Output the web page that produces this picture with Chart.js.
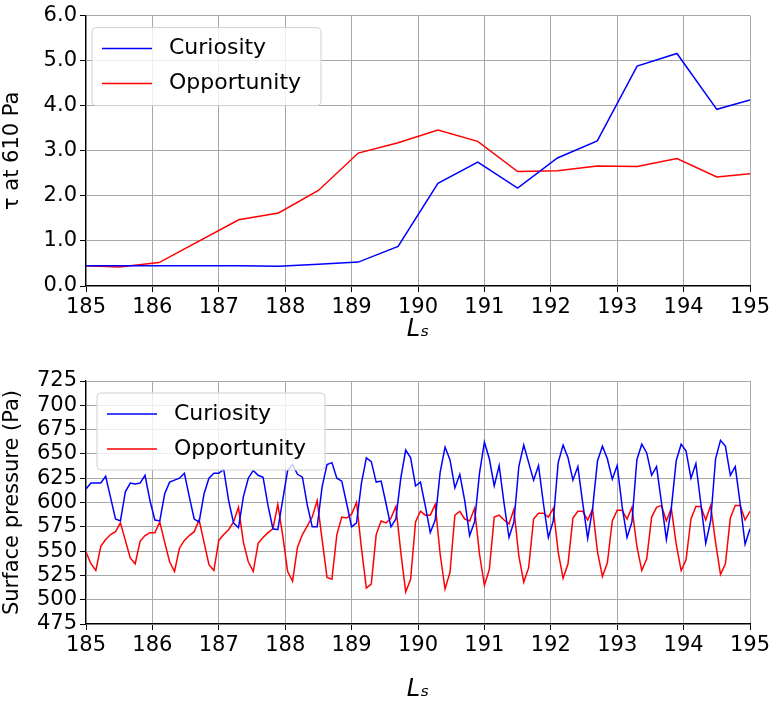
<!DOCTYPE html>
<html>
<head>
<meta charset="utf-8">
<script src="https://cdn.jsdelivr.net/npm/chart.js@4"></script>
<style>
  body { margin: 0; background: #fff; }
  .box { position: absolute; left: 0; width: 774px; }
</style>
</head>
<body>
<div class="box" style="top:0;height:344px"><canvas id="tauChart"></canvas></div>
<div class="box" style="top:350px;height:354px"><canvas id="pressChart"></canvas></div>
<script>
// Opacity (top panel)
const tauCuriosityLs = [185, 186.1, 187.3, 187.9, 188.5, 189.1, 189.7, 190.3, 190.9, 191.5, 192.1, 192.7, 193.3, 193.9, 194.5, 195];
const tauCuriosity = [0.45, 0.45, 0.45, 0.44, 0.48, 0.53, 0.88, 2.28, 2.75, 2.17, 2.84, 3.22, 4.88, 5.16, 3.92, 4.13];
const tauOpportunityLs = [185, 185.5, 186.1, 187.3, 187.9, 188.5, 189.1, 189.7, 190.3, 190.9, 191.5, 192.1, 192.7, 193.3, 193.9, 194.5, 195];
const tauOpportunity = [0.45, 0.42, 0.52, 1.47, 1.62, 2.12, 2.95, 3.18, 3.46, 3.21, 2.54, 2.56, 2.66, 2.65, 2.83, 2.42, 2.49];

// Surface pressure (bottom panel), evenly sampled from Ls 185 to 195
const pressStart = 185, pressEnd = 195;
const pressCuriosity = [614,620,620,620,627,605,583,581,611,620,619,620,628,602,582,581,609,621,623,625,630,606,583,580,609,625,630,630,634,602,579,574,606,625,633,628,626,597,573,572,603,633,639,629,626,597,575,575,616,639,641,625,622,599,575,579,620,646,642,621,622,599,575,583,625,654,646,
  617,621,596,569,582,631,657,644,615,629,602,566,580,630,662,645,617,638,599,564,580,637,659,641,623,638,599,564,581,641,659,646,623,637,599,563,594,643,658,645,624,638,596,564,580,644,660,651,628,637,600,562,594,643,660,653,625,640,599,558,581,645,664,658,628,637,599,557,573];
const pressOpportunity = [549,537,530,555,562,567,570,579,561,543,537,560,566,569,569,580,559,539,529,553,561,566,570,582,559,536,530,561,567,572,580,595,559,539,529,558,564,569,573,598,566,529,519,554,567,576,585,602,562,523,521,567,585,584,588,600,553,512,516,567,581,579,584,596,549,508,521,580,
  591,587,587,598,547,511,528,587,591,583,581,594,547,515,531,585,587,582,578,593,545,518,533,583,589,589,585,594,549,522,537,584,591,591,582,593,549,524,538,581,592,592,583,595,555,530,542,585,595,597,581,594,557,530,541,583,596,596,582,597,559,526,537,584,597,597,582,591];

const xTicks = [185, 186, 187, 188, 189, 190, 191, 192, 193, 194, 195];
const tauTicks = [0, 1, 2, 3, 4, 5, 6];
const pressTicks = [475, 500, 525, 550, 575, 600, 625, 650, 675, 700, 725];

const FONT = 'DejaVu Sans';
const TICK_FONT = { family: FONT, size: 21 };
const TITLE_FONT = { family: FONT, size: 21 };

function pairs(xs, ys) {
    return ys.map((y, i) => ({ x: xs[i], y: y }));
}
function evenPairs(ys) {
    const step = (pressEnd - pressStart) / (ys.length - 1);
    return ys.map((y, i) => ({ x: pressStart + i * step, y: y }));
}

// legend drawn inside the plot area, matplotlib style
const boxLegend = {
    id: 'boxLegend',
    afterDraw(chart, args, opts) {
        const c = chart.ctx, a = chart.chartArea;
        const x = a.left + opts.dx, y = a.top + opts.dy;
        c.save();
        c.fillStyle = 'rgba(255,255,255,0.8)';
        c.strokeStyle = '#d0d0d0';
        c.lineWidth = 1;
        c.beginPath();
        c.roundRect(x, y, opts.w, opts.h, 4);
        c.fill();
        c.stroke();
        c.font = '22px ' + FONT;
        c.textBaseline = 'middle';
        chart.data.datasets.forEach((ds, i) => {
            const ly = y + 21 + i * 35;
            c.strokeStyle = ds.borderColor;
            c.lineWidth = 1.5;
            c.beginPath();
            c.moveTo(x + 10, ly);
            c.lineTo(x + 60, ly);
            c.stroke();
            c.fillStyle = '#000';
            c.fillText(ds.label, x + 77, ly);
        });
        c.restore();
    }
};

function makeChart(id, datasets, yOpts, axisHeight, pad, legend) {
    return new Chart(document.getElementById(id), {
        type: 'line',
        data: { datasets: datasets },
        plugins: [boxLegend],
        options: {
            responsive: true,
            maintainAspectRatio: false,
            animation: false,
            layout: { padding: { left: 0, right: 24, top: pad, bottom: 0 } },
            elements: { point: { radius: 0 }, line: { borderWidth: 1.5, tension: 0 } },
            plugins: { legend: { display: false }, tooltip: { enabled: false }, boxLegend: legend },
            scales: {
                x: {
                    type: 'linear', min: 185, max: 195,
                    afterBuildTicks: s => { s.ticks = xTicks.map(v => ({ value: v })); },
                    afterFit: s => { s.height = axisHeight; },
                    grid: { color: '#a8a8a8', tickColor: '#000', tickLength: 6 },
                    border: { color: '#000', width: 1.2 },
                    ticks: { color: '#000', font: TICK_FONT, padding: 3, autoSkip: false, maxRotation: 0 },
                    title: { display: true, text: 'Lₛ', color: '#000', padding: 0,
                             font: { family: FONT, size: 24, style: 'italic' } }
                },
                y: Object.assign({
                    type: 'linear',
                    afterFit: s => { s.width = 86; },
                    grid: { color: '#a8a8a8', tickColor: '#000', tickLength: 6 },
                    border: { color: '#000', width: 1.2 },
                    ticks: { color: '#000', font: TICK_FONT, padding: 3, autoSkip: false }
                }, yOpts)
            }
        }
    });
}

makeChart('tauChart', [
    { label: 'Curiosity', data: pairs(tauCuriosityLs, tauCuriosity), borderColor: '#0000ff' },
    { label: 'Opportunity', data: pairs(tauOpportunityLs, tauOpportunity), borderColor: '#ff0000' }
], {
    min: 0, max: 6,
    afterBuildTicks: s => { s.ticks = tauTicks.map(v => ({ value: v })); },
    ticks: { color: '#000', font: TICK_FONT, padding: 3, autoSkip: false, callback: v => v.toFixed(1) },
    title: { display: true, text: 'τ at 610 Pa', color: '#000', padding: 0, font: TITLE_FONT }
}, 58, 12, { dx: 6, dy: 12, w: 229, h: 78 });

makeChart('pressChart', [
    { label: 'Curiosity', data: evenPairs(pressCuriosity), borderColor: '#0000ff' },
    { label: 'Opportunity', data: evenPairs(pressOpportunity), borderColor: '#ff0000' }
], {
    min: 475, max: 725,
    afterBuildTicks: s => { s.ticks = pressTicks.map(v => ({ value: v })); },
    title: { display: true, text: 'Surface pressure (Pa)', color: '#000', padding: 0, font: TITLE_FONT }
}, 80, 31, { dx: 11, dy: 12, w: 228, h: 77 });
</script>
</body>
</html>
